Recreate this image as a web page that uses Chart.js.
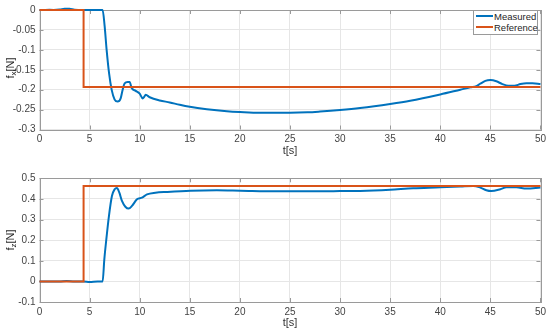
<!DOCTYPE html>
<html>
<head>
<meta charset="utf-8">
<script src="https://cdn.jsdelivr.net/npm/chart.js@4/dist/chart.umd.min.js"></script>
<style>
  html, body { margin: 0; padding: 0; background: #fff; }
  body { width: 550px; height: 332px; position: relative; overflow: hidden; font-family: "Liberation Sans", Arial, sans-serif; }
  .wrap { position: absolute; left: 0; width: 550px; height: 166px; }
  .ylab { position: absolute; font-size: 11px; color: #262626; transform: translate(-50%, -50%) rotate(-90deg); white-space: nowrap; }
  .ylab sub { font-size: 8px; vertical-align: -2px; }
  .legend { position: absolute; left: 473px; top: 10px; width: 63px; height: 23px; border: 1px solid #9a9a9a; background: #fff; font-size: 9.5px; color: #262626; }
  .legend .row { position: absolute; left: 2px; height: 11px; line-height: 11px; white-space: nowrap; }
  .legend .sw { display: inline-block; width: 17px; height: 2px; vertical-align: middle; margin-right: 1px; position: relative; top: -1px; }
</style>
</head>
<body>
<div class="wrap" style="top:0"><canvas id="c1" width="550" height="166"></canvas></div>
<div class="wrap" style="top:166px"><canvas id="c2" width="550" height="166"></canvas></div>
<div class="ylab" style="left:11px; top:68px;">f<sub>x</sub>[N]</div>
<div class="ylab" style="left:11px; top:240px;">f<sub>z</sub>[N]</div>
<div class="legend">
  <div class="row" style="top:-0.5px"><span class="sw" style="background:#0072BD"></span>Measured</div>
  <div class="row" style="top:11px"><span class="sw" style="background:#D95319"></span>Reference</div>
</div>
<script>
// ---- data ----
const seriesNames = ["Measured", "Reference"];
const xTicks = [0, 5, 10, 15, 20, 25, 30, 35, 40, 45, 50];
const fxTicks = [0, -0.05, -0.1, -0.15, -0.2, -0.25, -0.3];
const fzTicks = [0.5, 0.4, 0.3, 0.2, 0.1, 0, -0.1];

const tFx = [0, 1, 2, 2.5, 3, 3.5, 4.4, 5, 6.3, 6.5, 6.7, 6.95, 7.2, 7.5, 7.8, 8.1, 8.3, 8.5, 8.8, 9.0, 9.2, 9.6, 10.0, 10.3, 10.45, 10.6, 11.0, 12.0, 13.0, 14.0, 15.0, 16.7, 18.7, 20.0, 22.0, 23.5, 25, 26.75, 28, 30, 32, 35, 37, 40, 42, 43, 43.6, 44, 44.5, 45, 45.6, 46.2, 46.8, 47.4, 48, 48.6, 49.2, 50];
const fxMeasured = [0, 0.0005, 0.001, 0.003, 0.003, 0.0005, 0, 0, 0, -0.04, -0.1, -0.16, -0.2, -0.225, -0.23, -0.222, -0.2, -0.184, -0.181, -0.181, -0.196, -0.203, -0.21, -0.222, -0.218, -0.213, -0.219, -0.227, -0.232, -0.238, -0.243, -0.249, -0.254, -0.256, -0.258, -0.258, -0.258, -0.257, -0.255, -0.251, -0.246, -0.236, -0.228, -0.212, -0.2, -0.194, -0.191, -0.185, -0.178, -0.176, -0.179, -0.186, -0.19, -0.19, -0.186, -0.184, -0.184, -0.186];
const tFxRef = [0, 4.4, 4.4, 50];
const fxReference = [0, 0, -0.193, -0.193];

const tFz = [0, 2, 2.7, 3.5, 4.4, 5, 5.8, 6.3, 6.47, 6.67, 6.93, 7.23, 7.5, 7.73, 7.97, 8.23, 8.57, 8.9, 9.23, 9.73, 10.23, 10.73, 11.57, 12.73, 15.07, 17.7, 20.07, 23.6, 27, 30, 32, 35, 37.3, 40, 42, 43.3, 44, 44.6, 45.1, 46, 46.6, 47.6, 48.6, 50];
const fzMeasured = [0, 0, 0.002, 0, 0, -0.003, -0.001, 0, 0.107, 0.204, 0.317, 0.414, 0.447, 0.453, 0.43, 0.39, 0.362, 0.353, 0.366, 0.398, 0.406, 0.422, 0.43, 0.434, 0.44, 0.442, 0.44, 0.437, 0.437, 0.438, 0.439, 0.445, 0.452, 0.456, 0.46, 0.463, 0.455, 0.442, 0.438, 0.447, 0.456, 0.456, 0.45, 0.455];
const tFzRef = [0, 4.4, 4.4, 50];
const fzReference = [0, 0, 0.463, 0.463];

// ---- helpers ----
const pts = (xs, ys) => xs.map((x, i) => ({ x: x, y: ys[i] }));
const BLUE = '#0072BD', ORANGE = '#D95319';
const GRID = '#e6e6e6', BOX = '#9a9a9a', TXT = '#444444';
const FONT = { family: '"Liberation Sans", Arial, sans-serif', size: 10 };

const boxPlugin = {
  id: 'boxPlugin',
  beforeDatasetsDraw(chart) {
    const { ctx, chartArea: a, scales } = chart;
    ctx.save();
    ctx.strokeStyle = BOX;
    ctx.lineWidth = 1;
    ctx.beginPath();
    scales.x.ticks.forEach(t => {
      const px = Math.round(scales.x.getPixelForValue(t.value)) + 0.5;
      ctx.moveTo(px, a.bottom); ctx.lineTo(px, a.bottom - 4);
      ctx.moveTo(px, a.top); ctx.lineTo(px, a.top + 4);
    });
    scales.y.ticks.forEach(t => {
      const py = Math.round(scales.y.getPixelForValue(t.value)) + 0.5;
      ctx.moveTo(a.left, py); ctx.lineTo(a.left + 4, py);
      ctx.moveTo(a.right, py); ctx.lineTo(a.right - 4, py);
    });
    ctx.stroke();
    ctx.strokeRect(Math.round(a.left) + 0.5, Math.round(a.top) + 0.5, Math.round(a.right - a.left), Math.round(a.bottom - a.top));
    ctx.restore();
  }
};

function makeChart(id, tm, ym, tr, yr, yTicks, ymin, ymax, padTop, xHeight, titlePadBottom) {
  return new Chart(document.getElementById(id), {
    type: 'line',
    data: {
      datasets: [
        { label: seriesNames[0], data: pts(tm, ym), borderColor: BLUE, borderWidth: 2, pointRadius: 0, cubicInterpolationMode: 'monotone', order: 1, clip: 4 },
        { label: seriesNames[1], data: pts(tr, yr), borderColor: ORANGE, borderWidth: 2, pointRadius: 0, tension: 0, order: 0, clip: 4 }
      ]
    },
    options: {
      responsive: false,
      animation: false,
      events: [],
      layout: { padding: { top: padTop, right: 9, left: 0, bottom: 0 } },
      plugins: { legend: { display: false }, tooltip: { enabled: false } },
      scales: {
        x: {
          type: 'linear', min: 0, max: 50,
          afterBuildTicks: s => { s.ticks = xTicks.map(v => ({ value: v })); },
          afterFit: s => { s.height = xHeight; },
          grid: { color: GRID, drawTicks: false },
          border: { display: false },
          ticks: { color: TXT, font: FONT, padding: 4, maxRotation: 0, callback: v => String(v) },
          title: { display: true, text: 't[s]', color: '#333333', font: { family: FONT.family, size: 11 }, padding: { top: 0, bottom: titlePadBottom } }
        },
        y: {
          type: 'linear', min: ymin, max: ymax,
          afterBuildTicks: s => { s.ticks = yTicks.map(v => ({ value: v })); },
          afterFit: s => { s.width = 39.5; },
          grid: { color: GRID, drawTicks: false },
          border: { display: false },
          ticks: { color: TXT, font: FONT, padding: 4, callback: v => String(Math.round(v * 100) / 100) }
        }
      }
    },
    plugins: [boxPlugin]
  });
}

makeChart('c1', tFx, fxMeasured, tFxRef, fxReference, fxTicks, -0.3, 0, 6, 36.5, 8);
makeChart('c2', tFz, fzMeasured, tFzRef, fzReference, fzTicks, -0.1, 0.5, 12.3, 30, 2);
</script>
</body>
</html>
